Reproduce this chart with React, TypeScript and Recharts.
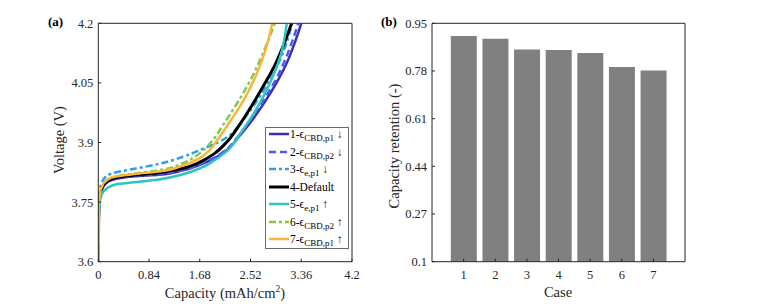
import React from 'react';
import { LineChart, Line, BarChart, Bar, XAxis, YAxis } from 'recharts';

const FONT = '"Liberation Serif", "Times New Roman", serif';
const INK = '#262626';

const capTicks = [0, 0.84, 1.68, 2.52, 3.36, 4.2];
const voltTicks = [3.6, 3.75, 3.9, 4.05, 4.2];
const caseTicks = [1, 2, 3, 4, 5, 6, 7];
const retentionTicks = [0.1, 0.27, 0.44, 0.61, 0.78, 0.95];

// panel (b)
const cases = [1, 2, 3, 4, 5, 6, 7];
const retention = [0.905, 0.895, 0.857, 0.855, 0.844, 0.794, 0.782];

// panel (a): capacity (mAh/cm2) vs voltage (V), one pair per case
const cap1 = [0, 0.005, 0.02, 0.06, 0.15, 0.3, 0.6, 1.0, 1.4, 1.7, 1.92, 2.12, 2.33, 2.54, 2.76, 2.95, 3.12, 3.25, 3.36];
const volt1 = [3.6, 3.7, 3.758, 3.782, 3.8, 3.809, 3.815, 3.819, 3.83, 3.845, 3.86, 3.88, 3.915, 3.955, 4.003, 4.05, 4.1, 4.15, 4.2];
const cap2 = [0, 0.005, 0.02, 0.06, 0.15, 0.3, 0.6, 1.0, 1.4, 1.7, 1.92, 2.12, 2.31, 2.51, 2.72, 2.91, 3.07, 3.2, 3.31];
const volt2 = [3.6, 3.7, 3.758, 3.783, 3.801, 3.81, 3.816, 3.82, 3.831, 3.846, 3.862, 3.882, 3.915, 3.955, 4.003, 4.05, 4.1, 4.15, 4.2];
const cap3 = [0, 0.005, 0.02, 0.06, 0.15, 0.3, 0.6, 1.0, 1.4, 1.7, 1.92, 2.12, 2.33, 2.55, 2.76, 2.94, 3.08, 3.21];
const volt3 = [3.6, 3.72, 3.775, 3.8, 3.817, 3.825, 3.834, 3.846, 3.864, 3.882, 3.896, 3.912, 3.944, 3.988, 4.037, 4.085, 4.135, 4.2];
const cap4 = [0, 0.005, 0.02, 0.06, 0.15, 0.3, 0.6, 1.0, 1.4, 1.7, 1.92, 2.12, 2.34, 2.57, 2.77, 2.94, 3.08, 3.2];
const volt4 = [3.6, 3.7, 3.76, 3.785, 3.803, 3.812, 3.818, 3.824, 3.835, 3.852, 3.872, 3.9, 3.945, 4.0, 4.052, 4.1, 4.15, 4.2];
const cap5 = [0, 0.005, 0.02, 0.06, 0.15, 0.3, 0.6, 1.0, 1.4, 1.7, 1.92, 2.12, 2.33, 2.54, 2.74, 2.9, 3.02, 3.12];
const volt5 = [3.6, 3.69, 3.745, 3.77, 3.785, 3.795, 3.8, 3.807, 3.82, 3.836, 3.855, 3.877, 3.918, 3.965, 4.018, 4.07, 4.12, 4.2];
const cap6 = [0, 0.005, 0.02, 0.06, 0.15, 0.3, 0.6, 1.0, 1.4, 1.6, 1.75, 1.9, 2.07, 2.27, 2.47, 2.64, 2.79, 2.92];
const volt6 = [3.6, 3.7, 3.76, 3.788, 3.806, 3.815, 3.822, 3.83, 3.848, 3.864, 3.882, 3.907, 3.945, 3.992, 4.043, 4.095, 4.148, 4.2];
const cap7 = [0, 0.005, 0.02, 0.06, 0.15, 0.3, 0.6, 1.0, 1.4, 1.65, 1.83, 1.98, 2.18, 2.4, 2.57, 2.7, 2.8, 2.88];
const volt7 = [3.6, 3.71, 3.765, 3.79, 3.807, 3.815, 3.821, 3.827, 3.842, 3.858, 3.879, 3.908, 3.953, 4.005, 4.055, 4.103, 4.15, 4.2];

const toPts = (cap: number[], volt: number[]) => cap.map((c, i) => ({ cap: c, v: volt[i] }));

const curves = [
  { id: 1, pts: toPts(cap1, volt1), color: '#3d2fb5', dash: undefined, w: 2.5, label: '1-ϵ', sub: 'CBD,p1', arrow: '↓' },
  { id: 2, pts: toPts(cap2, volt2), color: '#4a5cf0', dash: '7 4', w: 2.5, label: '2-ϵ', sub: 'CBD,p2', arrow: '↓' },
  { id: 3, pts: toPts(cap3, volt3), color: '#2e9ef0', dash: '7 3 3 3', w: 2.5, label: '3-ϵ', sub: 'e,p1', arrow: '↓' },
  { id: 4, pts: toPts(cap4, volt4), color: '#000000', dash: undefined, w: 3, label: '4-Default', sub: '', arrow: '' },
  { id: 5, pts: toPts(cap5, volt5), color: '#2ec4c0', dash: undefined, w: 2.5, label: '5-ϵ', sub: 'e,p1', arrow: '↑' },
  { id: 6, pts: toPts(cap6, volt6), color: '#7ccc4a', dash: '7 3 3 3', w: 2.5, label: '6-ϵ', sub: 'CBD,p2', arrow: '↑' },
  { id: 7, pts: toPts(cap7, volt7), color: '#f8b53a', dash: undefined, w: 2.5, label: '7-ϵ', sub: 'CBD,p1', arrow: '↑' },
];

const barData = cases.map((c, i) => ({ case: c, retention: retention[i] }));

const tickStyle = { fontFamily: FONT, fontSize: 12.5, fill: INK };
const axisLine = { stroke: INK, strokeWidth: 1 };

const txt: React.CSSProperties = { position: 'absolute', fontFamily: FONT, color: INK, whiteSpace: 'nowrap' };

export default function App() {
  return (
    <div style={{ position: 'absolute', left: 0, top: 0, width: 758, height: 304, background: '#fff' }}>
      <div style={{ position: 'absolute', left: 0, top: 0 }}>
        <LineChart width={379} height={304} margin={{ top: 22.3, right: 26, bottom: 0, left: 0 }}>
          <XAxis dataKey="cap" type="number" domain={[0, 4.2]} ticks={capTicks} interval={0} height={42.3}
            allowDataOverflow tickSize={-3} tickMargin={11} tick={tickStyle} axisLine={axisLine} tickLine={axisLine} />
          <XAxis xAxisId="top" orientation="top" type="number" domain={[0, 4.2]} ticks={capTicks} interval={0} height={1}
            allowDataOverflow tickSize={-3} tick={false} axisLine={axisLine} tickLine={axisLine} />
          <YAxis type="number" domain={[3.6, 4.2]} ticks={voltTicks} interval={0} width={98.3}
            allowDataOverflow tickSize={-3} tickMargin={8} tick={tickStyle} axisLine={axisLine} tickLine={axisLine} />
          <YAxis yAxisId="r" orientation="right" type="number" domain={[3.6, 4.2]} ticks={voltTicks} interval={0} width={1}
            allowDataOverflow tickSize={-3} tick={false} axisLine={axisLine} tickLine={axisLine} />
          {curves.map((c) => (
            <Line key={c.id} data={c.pts} dataKey="v" type="monotoneY" stroke={c.color} strokeWidth={c.w}
              strokeDasharray={c.dash} dot={false} activeDot={false} isAnimationActive={false} />
          ))}
        </LineChart>
      </div>

      <div style={{ position: 'absolute', left: 379, top: 0 }}>
        <BarChart width={379} height={304} data={barData} margin={{ top: 22.3, right: 72, bottom: 0, left: 0 }}>
          <XAxis dataKey="case" type="number" domain={[0, 8]} ticks={caseTicks} interval={0} height={42.3}
            allowDataOverflow tickSize={-3} tickMargin={11} tick={tickStyle} axisLine={axisLine} tickLine={axisLine} />
          <XAxis xAxisId="top" orientation="top" type="number" domain={[0, 8]} ticks={caseTicks} interval={0} height={1}
            allowDataOverflow tickSize={-3} tick={false} axisLine={axisLine} tickLine={axisLine} />
          <YAxis type="number" domain={[0.1, 0.95]} ticks={retentionTicks} interval={0} width={53}
            allowDataOverflow tickSize={-3} tickMargin={8} tick={tickStyle} axisLine={axisLine} tickLine={axisLine} />
          <YAxis yAxisId="r" orientation="right" type="number" domain={[0.1, 0.95]} ticks={retentionTicks} interval={0} width={1}
            allowDataOverflow tickSize={-3} tick={false} axisLine={axisLine} tickLine={axisLine} />
          <Bar dataKey="retention" fill="#808080" barSize={26} isAnimationActive={false} />
        </BarChart>
      </div>

      {/* legend of panel (a) */}
      <div style={{ position: 'absolute', left: 265, top: 127, width: 82, height: 120, border: '1px solid #6b6b6b', background: '#fff' }}>
        {curves.map((c, i) => (
          <div key={c.id} style={{ position: 'absolute', left: 0, top: i * 17.5 - 2, height: 17, width: 82 }}>
            <svg width={22} height={17} style={{ position: 'absolute', left: 2, top: 0 }}>
              <line x1={1} y1={8} x2={21} y2={8} stroke={c.color} strokeWidth={c.w} strokeDasharray={c.dash} />
            </svg>
            <span style={{ ...txt, left: 24, top: 0, fontSize: 11.5, lineHeight: '17px', color: '#000' }}>
              {c.label}
              {c.sub && <span style={{ fontSize: 9, position: 'relative', top: 3 }}>{c.sub}</span>}
              {c.arrow && <span> {c.arrow}</span>}
            </span>
          </div>
        ))}
      </div>

      <div style={{ ...txt, left: 48, top: 14, fontSize: 13, fontWeight: 'bold', color: '#000' }}>(a)</div>
      <div style={{ ...txt, left: 381, top: 14, fontSize: 13, fontWeight: 'bold', color: '#000' }}>(b)</div>

      <div style={{ ...txt, left: 225, top: 293, fontSize: 14.5, transform: 'translate(-50%, -50%)' }}>
        Capacity (mAh/cm<sup style={{ fontSize: 9.5 }}>2</sup>)
      </div>
      <div style={{ ...txt, left: 558, top: 292, fontSize: 14.5, transform: 'translate(-50%, -50%)' }}>Case</div>
      <div style={{ ...txt, left: 59, top: 140, fontSize: 14.5, transform: 'translate(-50%, -50%) rotate(-90deg)' }}>Voltage (V)</div>
      <div style={{ ...txt, left: 394, top: 146, fontSize: 14.5, transform: 'translate(-50%, -50%) rotate(-90deg)' }}>Capacity retention (-)</div>
    </div>
  );
}
